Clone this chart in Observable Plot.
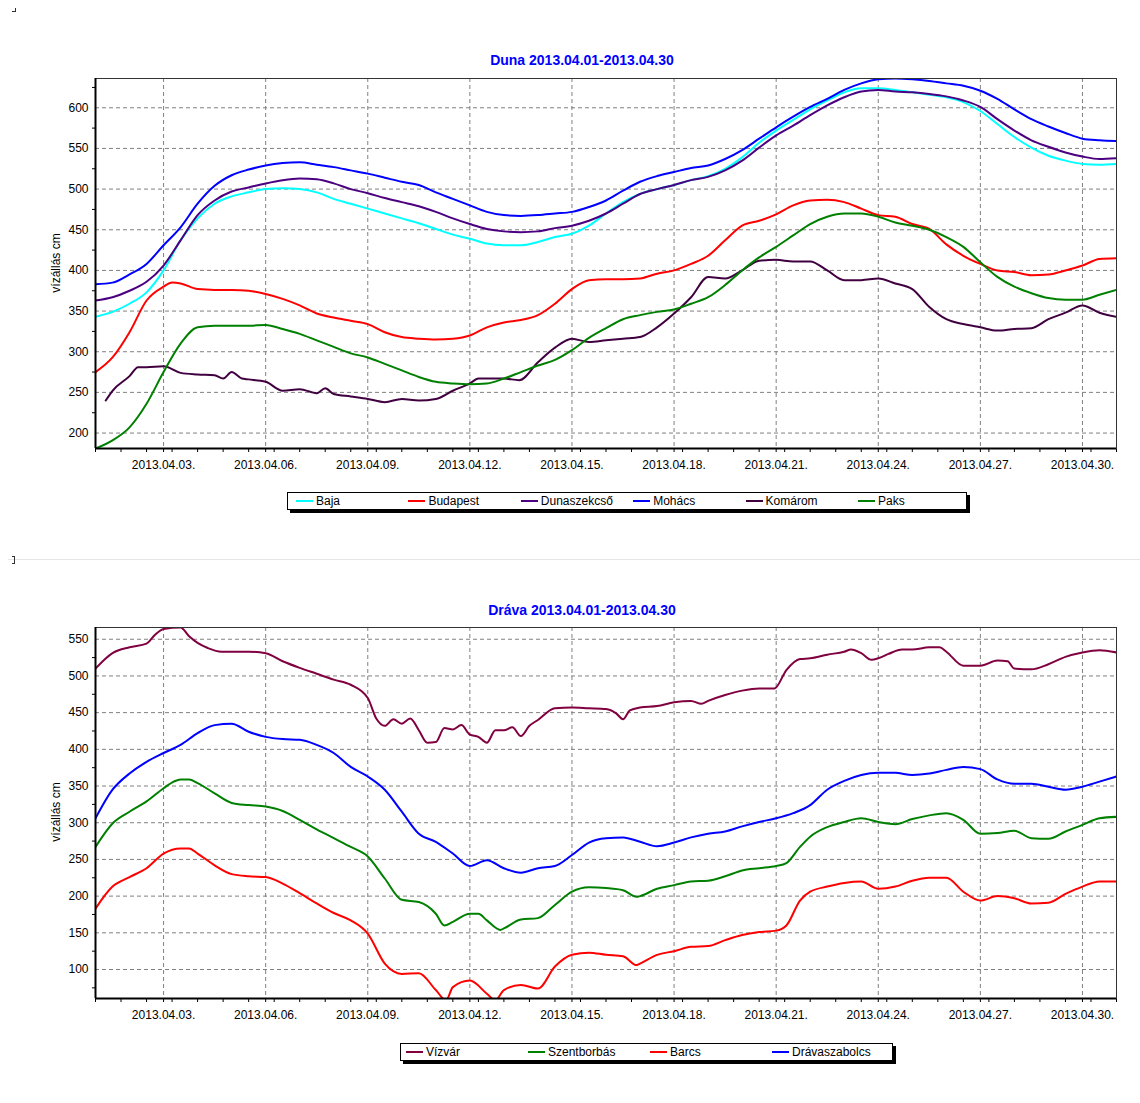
<!DOCTYPE html>
<html><head><meta charset="utf-8">
<script src="https://cdn.jsdelivr.net/npm/d3@7"></script>
<script src="https://cdn.jsdelivr.net/npm/@observablehq/plot@0.6"></script>
<style>
body{margin:0;background:#fff;font-family:"Liberation Sans",Arial,sans-serif;}
#root{position:relative;width:1140px;height:1103px;overflow:hidden;background:#fff;}
#root svg{position:absolute;left:0;}
.title{position:absolute;width:400px;text-align:center;color:#0000ff;font-weight:bold;font-size:14px;line-height:16px;}
.ylab{position:absolute;font-size:12px;line-height:14px;white-space:nowrap;transform:rotate(-90deg);transform-origin:center center;color:#000;}
.legend{position:absolute;box-sizing:border-box;height:18px;border:1px solid #000;background:#fff;box-shadow:3px 3px 0 #000;font-size:12px;color:#000;}
.item{position:absolute;top:0;height:16px;line-height:16px;}
.item i{position:absolute;top:7px;left:0;width:17px;height:2px;}
.item span{position:absolute;left:20px;white-space:nowrap;}
.sep{position:absolute;left:8px;top:559px;width:1132px;height:1px;background:#e6e6e6;}
.mark{position:absolute;border-color:#333;border-style:solid;}
</style></head>
<body><div id="root"></div>
<script>
// ---- data: [day of April (fractional), water level cm] ----
const xTickDays = [3, 6, 9, 12, 15, 18, 21, 24, 27, 30];
const dunaYTicks = [200, 250, 300, 350, 400, 450, 500, 550, 600];
const dravaYTicks = [100, 150, 200, 250, 300, 350, 400, 450, 500, 550];

const dunaNames = ["Baja", "Budapest", "Dunaszekcső", "Mohács", "Komárom", "Paks"];
const dunaColors = ["#00ffff", "#ff0000", "#4b0082", "#0000ff", "#400040", "#008000"];
const dravaNames = ["Vízvár", "Szentborbás", "Barcs", "Drávaszabolcs"];
const dravaColors = ["#800040", "#008000", "#ff0000", "#0000ff"];

const baja = [[1,343],[1.5,349],[2,359],[2.5,373],[3,400],[3.5,437],[4,464],[4.5,482],[5,491],[5.5,496],[6,500],[6.5,501],[7,500],[7.5,496],[8,488],[8.5,482],[9,476],[9.5,470],[10,464],[10.5,458],[11,451],[11.5,444],[12,439],[12.5,433],[13,431],[13.5,431],[14,435],[14.5,441],[15,445],[15.5,455],[16,470],[16.5,484],[17,494],[17.5,500],[18,505],[18.5,511],[19,516],[19.5,525],[20,539],[20.5,557],[21,572],[21.5,585],[22,598],[22.5,609],[23,619],[23.5,624],[24,624],[24.5,622],[25,619],[25.5,616],[26,613],[26.5,607],[27,596],[27.5,580],[28,564],[28.5,551],[29,541],[29.5,535],[30,531],[30.5,530],[31,531]];
const budapest = [[1,275],[1.5,293],[2,324],[2.5,363],[3,380],[3.25,385],[3.5,384],[4,377],[4.5,376],[5,376],[5.5,375],[6,371],[6.5,365],[7,357],[7.5,347],[8,342],[8.5,338],[9,334],[9.5,324],[10,318],[10.5,316],[11,315],[11.5,316],[12,320],[12.5,330],[13,336],[13.5,339],[14,345],[14.5,359],[15,377],[15.5,388],[16,389],[16.5,389],[17,390],[17.5,396],[18,400],[18.5,408],[19,418],[19.5,437],[20,455],[20.5,461],[21,469],[21.5,480],[22,486],[22.5,487],[23,484],[23.5,476],[24,468],[24.5,466],[25,457],[25.5,451],[26,432],[26.5,418],[27,408],[27.5,400],[28,398],[28.5,394],[29,395],[29.5,400],[30,406],[30.5,414],[31,415]];
const dunaszekcso = [[1,363],[1.5,367],[2,375],[2.5,386],[3,406],[3.5,437],[4,468],[4.5,486],[5,497],[5.5,502],[6,507],[6.5,511],[7,513],[7.5,512],[8,507],[8.5,500],[9,495],[9.5,489],[10,484],[10.5,479],[11,472],[11.5,464],[12,457],[12.5,451],[13,448],[13.5,447],[14,448],[14.5,452],[15,455],[15.5,461],[16,470],[16.5,482],[17,494],[17.5,500],[18,505],[18.5,511],[19,515],[19.5,523],[20,535],[20.5,551],[21,566],[21.5,578],[22,591],[22.5,603],[23,613],[23.5,620],[24,622],[24.5,620],[25,619],[25.5,617],[26,614],[26.5,609],[27,601],[27.5,586],[28,572],[28.5,560],[29,552],[29.5,545],[30,540],[30.5,537],[31,538]];
const mohacs = [[1,383],[1.5,385],[2,395],[2.5,408],[3,431],[3.5,453],[4,482],[4.5,504],[5,517],[5.5,524],[6,529],[6.5,532],[7,533],[7.5,530],[8,527],[8.5,523],[9,519],[9.5,514],[10,509],[10.5,505],[11,496],[11.5,488],[12,480],[12.5,472],[13,468],[13.5,467],[14,468],[14.5,470],[15,472],[15.5,478],[16,486],[16.5,498],[17,509],[17.5,516],[18,521],[18.5,526],[19,529],[19.5,537],[20,548],[20.5,562],[21,576],[21.5,589],[22,601],[22.5,611],[23,622],[23.5,630],[24,635],[24.5,636],[25,635],[25.5,633],[26,630],[26.5,627],[27,621],[27.5,611],[28,598],[28.5,586],[29,577],[29.5,569],[30,562],[30.5,560],[31,559]];
const komarom = [[1.3,240],[1.5,252],[2,270],[2.25,281],[2.5,281],[3,282],[3.5,274],[4,272],[4.5,271],[4.75,267],[5,275],[5.3,267],[5.5,266],[6,263],[6.5,252],[7,254],[7.5,249],[7.75,255],[8,248],[8.5,245],[9,242],[9.5,238],[10,242],[10.5,240],[11,242],[11.5,252],[12,261],[12.25,267],[12.5,267],[13,267],[13.45,265],[14,287],[14.5,305],[15,316],[15.5,312],[16,314],[16.5,316],[17,318],[17.5,330],[18,347],[18.5,367],[19,392],[19.5,390],[20,400],[20.5,412],[21,413],[21.5,411],[22,411],[22.5,400],[23,388],[23.5,388],[24,390],[24.5,384],[25,377],[25.5,355],[26,340],[26.5,334],[27,330],[27.5,326],[28,328],[28.5,329],[29,340],[29.5,348],[30,357],[30.5,348],[31,343]];
const paks = [[1,181],[1.5,191],[2,207],[2.5,236],[3,275],[3.5,310],[4,330],[4.5,332],[5,332],[5.5,332],[6,333],[6.5,328],[7,322],[7.5,314],[8,306],[8.5,298],[9,293],[9.5,285],[10,277],[10.5,269],[11,263],[11.5,261],[12,260],[12.5,261],[13,267],[13.5,275],[14,283],[14.5,290],[15,302],[15.5,317],[16,329],[16.5,340],[17,345],[17.5,349],[18,352],[18.5,359],[19,367],[19.5,382],[20,400],[20.5,416],[21,429],[21.5,443],[22,457],[22.5,466],[23,470],[23.5,470],[24,466],[24.5,459],[25,455],[25.5,450],[26,441],[26.5,429],[27,410],[27.5,392],[28,380],[28.5,372],[29,366],[29.5,364],[30,364],[30.5,370],[31,376]];

const vizvar = [[1,510],[1.5,531],[2,539],[2.5,544],[2.75,556],[3,564],[3.5,566],[3.75,554],[4,545],[4.3,538],[4.7,533],[5,533],[5.5,533],[6,531],[6.5,520],[7,511],[7.5,503],[8,495],[8.5,488],[9,470],[9.25,442],[9.5,432],[9.75,441],[10,435],[10.25,442],[10.5,426],[10.75,409],[11,410],[11.25,429],[11.5,427],[11.75,433],[12,420],[12.25,417],[12.5,409],[12.75,426],[13,426],[13.25,430],[13.5,418],[13.75,432],[14,440],[14.5,456],[15,457],[15.5,456],[16,455],[16.3,449],[16.5,441],[16.7,453],[17,457],[17.5,459],[18,464],[18.5,466],[18.8,462],[19,466],[19.5,474],[20,480],[20.5,483],[20.95,483],[21.3,508],[21.7,523],[22,524],[22.5,529],[23,533],[23.2,536],[23.5,531],[23.8,522],[24,524],[24.3,530],[24.7,536],[25,536],[25.5,539],[25.8,539],[26,533],[26.5,514],[27,514],[27.5,521],[27.8,520],[28,510],[28.5,509],[29,516],[29.5,526],[30,532],[30.5,535],[31,532]];
const szentborbas = [[1,267],[1.5,299],[2,315],[2.5,329],[3,347],[3.3,356],[3.5,359],[3.75,359],[4,354],[4.5,340],[5,327],[5.5,324],[6,322],[6.5,316],[7,304],[7.5,291],[8,279],[8.5,267],[9,254],[9.5,224],[10,195],[10.5,192],[11,176],[11.25,160],[11.5,165],[12,176],[12.25,176],[12.5,167],[12.9,154],[13,156],[13.5,168],[14,170],[14.5,188],[15,206],[15.5,212],[16,211],[16.5,208],[16.9,199],[17,200],[17.5,210],[18,215],[18.5,220],[19,221],[19.5,227],[20,235],[20.5,238],[21,241],[21.3,245],[21.7,267],[22,281],[22.5,294],[23,301],[23.5,306],[24,301],[24.5,298],[25,305],[25.5,310],[26,313],[26.5,304],[27,285],[27.5,286],[28,289],[28.5,279],[29,278],[29.5,288],[30,297],[30.5,306],[31,308]];
const barcs = [[1,183],[1.5,213],[2,226],[2.5,238],[3,258],[3.5,265],[3.75,265],[4,258],[4.5,242],[5,230],[5.5,227],[6,226],[6.5,217],[7,204],[7.5,190],[8,177],[8.5,167],[9,149],[9.5,108],[10,94],[10.5,95],[11,72],[11.3,58],[11.5,76],[12,85],[12.5,67],[12.75,58],[13,72],[13.5,79],[14,74],[14.5,104],[15,120],[15.5,123],[16,120],[16.5,118],[16.9,106],[17,108],[17.5,120],[18,125],[18.5,131],[19,132],[19.5,140],[20,147],[20.5,151],[21,153],[21.3,160],[21.7,194],[22,206],[22.5,213],[23,218],[23.5,220],[24,210],[24.5,213],[25,221],[25.5,225],[26,225],[26.5,206],[27,194],[27.5,200],[28,197],[28.5,190],[29,191],[29.5,203],[30,213],[30.5,220],[31,220]];
const dravaszabolcs = [[1,306],[1.5,345],[2,367],[2.5,383],[3,395],[3.5,406],[4,422],[4.5,433],[5,435],[5.5,424],[6,417],[6.5,414],[7,413],[7.5,406],[8,395],[8.5,376],[9,363],[9.5,345],[10,315],[10.5,285],[11,274],[11.5,258],[12,241],[12.5,249],[13,238],[13.5,232],[14,238],[14.5,241],[15,256],[15.5,273],[16,279],[16.5,280],[17,274],[17.5,268],[18,273],[18.5,280],[19,285],[19.5,288],[20,295],[20.5,301],[21,306],[21.5,313],[22,324],[22.5,345],[23,357],[23.5,365],[24,368],[24.5,368],[25,365],[25.5,367],[26,372],[26.5,376],[27,373],[27.5,359],[28,353],[28.5,353],[29,349],[29.5,345],[30,349],[30.5,356],[31,363]];

const dunaSeries = [baja, budapest, dunaszekcso, mohacs, komarom, paks];
const dravaSeries = [vizvar, szentborbas, barcs, dravaszabolcs];

// ---- helpers ----
const day = d => new Date(Date.UTC(2013, 3, 1) + (d - 1) * 864e5);
const root = document.getElementById("root");
const FONT = "'Liberation Sans', Arial, sans-serif";

function chart(series, colors, yDomain, yTicks, top, marginTop, height) {
  const majors = xTickDays.map(day);
  const minors = d3.range(1, 31.01, 0.75).map(day).filter(t => !majors.some(m => +m === +t));
  const yMinor = d3.range(Math.ceil(yDomain[0] / 25) * 25, yDomain[1], 25).filter(v => v % 50 !== 0);
  const grid = {stroke: "#808080", strokeOpacity: 1, strokeDasharray: "4,3", strokeWidth: 1};
  const svg = Plot.plot({
    width: 1140, height, marginLeft: 95, marginRight: 24, marginTop, marginBottom: 32,
    x: {type: "utc", domain: [day(1), day(31)]},
    y: {domain: yDomain},
    style: {fontFamily: FONT, fontSize: "12px", color: "#000", background: "transparent"},
    marks: [
      Plot.gridX({ticks: majors, ...grid}),
      Plot.gridY({ticks: yTicks, ...grid}),
      ...series.map((s, i) => Plot.lineY(s, {x: d => day(d[0]), y: d => d[1], stroke: colors[i], strokeWidth: 2, curve: "monotone-x", clip: true})),
      Plot.axisX({ticks: minors, tickSize: 4, tickFormat: () => "", stroke: "#000"}),
      Plot.axisX({ticks: majors, tickSize: 4, tickPadding: 8, tickFormat: d3.utcFormat("%Y.%m.%d."), stroke: "#000", fill: "#000", fontSize: 12}),
      Plot.axisY({ticks: yMinor, tickSize: 3, tickFormat: () => "", stroke: "#000"}),
      Plot.axisY({ticks: yTicks, tickSize: 0, tickPadding: 7, fill: "#000", fontSize: 12}),
      Plot.frame({stroke: "#333", strokeWidth: 1}),
      Plot.ruleX([day(1)], {stroke: "#000", strokeWidth: 2}),
      Plot.ruleY([yDomain[0]], {stroke: "#000", strokeWidth: 2})
    ]
  });
  svg.style.top = top + "px";
  root.appendChild(svg);
}

function el(cls, styles, text) {
  const e = document.createElement("div");
  e.className = cls;
  Object.assign(e.style, styles);
  if (text != null) e.textContent = text;
  root.appendChild(e);
  return e;
}

function legend(names, colors, left, top, width, first, step) {
  const box = el("legend", {left: left + "px", top: top + "px", width: width + "px"});
  names.forEach((n, i) => {
    const it = document.createElement("div");
    it.className = "item";
    it.style.left = (first + i * step) + "px";
    const ln = document.createElement("i");
    ln.style.background = colors[i];
    const tx = document.createElement("span");
    tx.textContent = n;
    it.appendChild(ln); it.appendChild(tx);
    box.appendChild(it);
  });
}

// ---- Duna ----
el("title", {left: "382px", top: "52px"}, "Duna 2013.04.01-2013.04.30");
chart(dunaSeries, dunaColors, [181, 636], dunaYTicks, 70, 8, 410);
el("ylab", {left: "26px", top: "256px", width: "60px", textAlign: "center"}, "vízállás cm");
legend(dunaNames, dunaColors, 287, 492, 680, 8, 112.4);

// separator & small marks
el("sep", {});
el("mark", {left: "12px", top: "8px", width: "3px", height: "3px", borderWidth: "0 1px 1px 0"});
el("mark", {left: "12px", top: "556px", width: "2px", height: "6px", borderWidth: "1px 1px 1px 0"});

// ---- Dráva ----
el("title", {left: "382px", top: "602px"}, "Dráva 2013.04.01-2013.04.30");
chart(dravaSeries, dravaColors, [60.5, 566], dravaYTicks, 620, 7, 410);
el("ylab", {left: "26px", top: "805px", width: "60px", textAlign: "center"}, "vízállás cm");
legend(dravaNames, dravaColors, 400, 1043, 493, 5, 122);
</script></body></html>
